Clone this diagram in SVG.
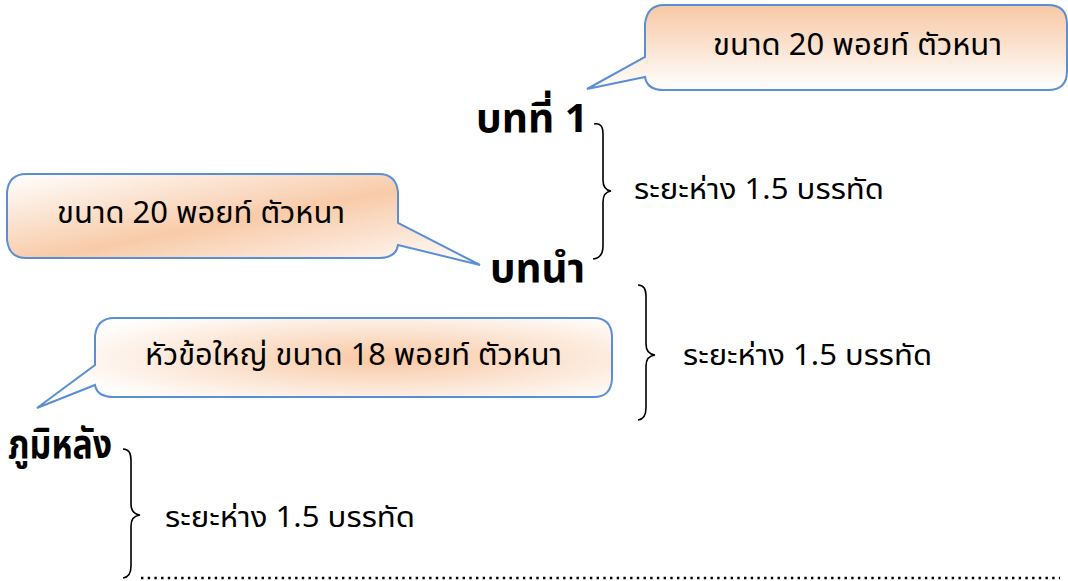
<svg xmlns="http://www.w3.org/2000/svg" width="1068" height="581" viewBox="0 0 1068 581">
<defs>
<linearGradient id="g1" x1="0" y1="0" x2="0" y2="1">
<stop offset="0" stop-color="#f7c8a4"/>
<stop offset="1" stop-color="#ffffff"/>
</linearGradient>
<linearGradient id="g2" x1="0" y1="0" x2="1" y2="1">
<stop offset="0" stop-color="#ffffff"/>
<stop offset="0.5" stop-color="#f8cba9"/>
<stop offset="1" stop-color="#ffffff"/>
</linearGradient>
<radialGradient id="g3" cx="0.6" cy="0.45" r="0.6">
<stop offset="0" stop-color="#f8c8a4"/>
<stop offset="1" stop-color="#ffffff"/>
</radialGradient>
</defs>
<style>
.call{stroke:#5a8fd6;stroke-width:2;stroke-linejoin:miter}
.ct{font-family:"Noto Sans Thai","Noto Sans","Tahoma","DejaVu Sans",sans-serif;font-size:31px;fill:#000}
.hd{font-family:"Noto Sans Thai","Noto Sans","Tahoma","DejaVu Sans",sans-serif;font-size:40px;font-weight:bold;fill:#000}
.lb{font-family:"Noto Sans Thai","Noto Sans","Tahoma","DejaVu Sans",sans-serif;font-size:29px;fill:#000}
.br{fill:none;stroke:#000;stroke-width:1.6}
</style>
<g id="callout1">
<path class="call" fill="url(#g1)" d="M664,5 L1048,5 Q1067,5 1067,24 L1067,71 Q1067,90 1048,90 L664,90 Q647,90 645,77 L587,89 L645,57 L645,24 Q647,5 664,5 Z"/>
<text class="ct" x="713" y="55" textLength="289" lengthAdjust="spacingAndGlyphs">ขนาด 20 พอยท์ ตัวหนา</text>
</g>
<g id="callout2">
<path class="call" fill="url(#g2)" d="M26,174 L379,174 Q396,174 398,192 L398,223 L480,265 L398,245 Q396,258 379,258 L26,258 Q9,258 7,240 L7,192 Q9,174 26,174 Z"/>
<text class="ct" x="57" y="223" textLength="288" lengthAdjust="spacingAndGlyphs">ขนาด 20 พอยท์ ตัวหนา</text>
</g>
<g id="callout3">
<path class="call" fill="url(#g3)" d="M114,318 L594,318 Q611,318 612,336 L612,379 Q611,397 594,397 L114,397 Q97,397 95,385 L37,408 L95,365 L95,336 Q97,318 114,318 Z"/>
<text class="ct" x="145" y="365" textLength="417" lengthAdjust="spacingAndGlyphs">หัวข้อใหญ่ ขนาด 18 พอยท์ ตัวหนา</text>
</g>
<g id="heading1"><text class="hd" x="476" y="132" textLength="112" lengthAdjust="spacingAndGlyphs">บทที่ 1</text></g>
<g id="heading2"><text class="hd" x="490" y="282" textLength="95" lengthAdjust="spacingAndGlyphs">บทนำ</text></g>
<g id="heading3"><text class="hd" x="8" y="458" textLength="104" lengthAdjust="spacingAndGlyphs">ภูมิหลัง</text></g>
<g id="label1"><text class="lb" x="634" y="199" textLength="250" lengthAdjust="spacingAndGlyphs">ระยะห่าง 1.5 บรรทัด</text></g>
<g id="label2"><text class="lb" x="683" y="365" textLength="249" lengthAdjust="spacingAndGlyphs">ระยะห่าง 1.5 บรรทัด</text></g>
<g id="label3"><text class="lb" x="165" y="527" textLength="250" lengthAdjust="spacingAndGlyphs">ระยะห่าง 1.5 บรรทัด</text></g>
<g id="connectors">
<path class="br" d="M594,124 Q603,122 603,134 L603,180 Q603,190 611,191 Q603,192 603,202 L603,246 Q603,258 593,259"/>
<path class="br" d="M638,285 Q646,285 646,296 L646,344 Q646,354 655,355 Q646,356 646,366 L646,408 Q646,419 638,420"/>
<path class="br" d="M123,449 Q131,449 131,460 L131,504 Q131,514 140,515 Q131,516 131,526 L131,566 Q131,577 123,578"/>
<line x1="141" y1="578" x2="1060" y2="578" stroke="#000" stroke-width="2.6" stroke-dasharray="2.4 4.3"/>
</g>
</svg>
